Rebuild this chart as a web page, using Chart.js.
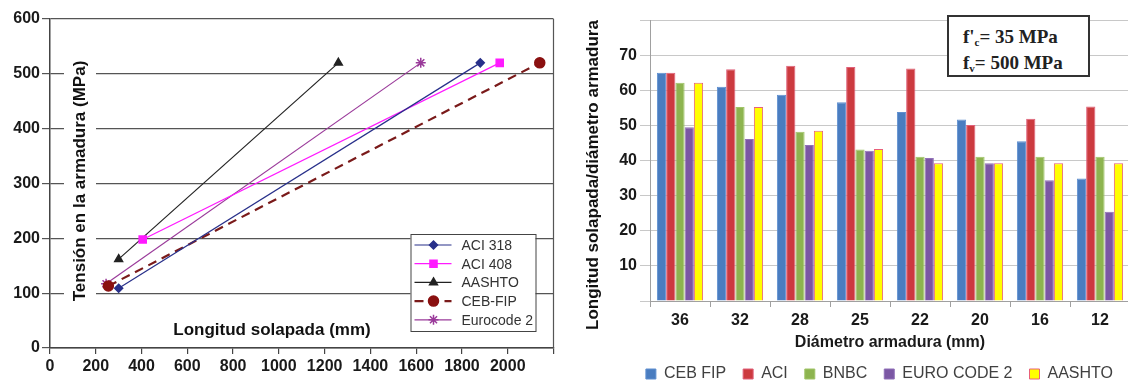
<!DOCTYPE html>
<html>
<head>
<meta charset="utf-8">
<script src="https://cdn.jsdelivr.net/npm/chart.js@4/dist/chart.umd.min.js"></script>
<style>
  html, body { margin: 0; padding: 0; background: #fff; }
  body { width: 1128px; height: 382px; overflow: hidden; position: relative; font-family: "Liberation Sans", Arial, sans-serif; }
  #left { position: absolute; left: 0; top: 0; width: 560px; height: 382px; }
  #right { position: absolute; left: 560px; top: 0; width: 580px; height: 382px; }
  #note {
    position: absolute; left: 947px; top: 15px; width: 139px; height: 58px;
    border: 2px solid #333; background: #fff;
    font: bold 19px "Liberation Serif", "Times New Roman", serif; color: #222;
    line-height: 26px; box-sizing: content-box;
  }
  #note div { padding-left: 14px; white-space: nowrap; height: 26px; }
  #note div:first-child { margin-top: 7px; }
  #note sub { font-size: 11px; vertical-align: -3px; line-height: 0; }
</style>
</head>
<body>
<canvas id="left" width="560" height="382"></canvas>
<canvas id="right" width="580" height="382"></canvas>
<div id="note"><div>f'<sub>c</sub>= 35 MPa</div><div>f<sub>v</sub>= 500 MPa</div></div>
<script>
// left chart: stress vs lap length
const aci318X = [300, 1880]
const aci318Y = [109, 520]
const aci408X = [405, 1965]
const aci408Y = [198, 520]
const aashtoX = [300, 1260]
const aashtoY = [162, 520]
const cebFipX = [255, 2140]
const cebFipY = [113, 520]
const eurocodeX = [245, 1620]
const eurocodeY = [117, 520]

// right chart: lap length / bar diameter
const diameters = ['36', '32', '28', '25', '22', '20', '16', '12']
const cebFip = [65, 61, 58.7, 56.6, 53.8, 51.7, 45.5, 34.9]
const aci = [65, 66, 67, 66.6, 66.2, 50.1, 51.9, 55.4]
const bnbc = [62.1, 55.2, 48.2, 43.1, 41.1, 41.1, 41.1, 41.1]
const euroCode2 = [49.5, 46.1, 44.4, 42.8, 40.7, 39.2, 34.4, 25.4]
const aashtoRatio = [62.1, 55.2, 48.5, 43.3, 39.2, 39.2, 39.2, 39.2]

const FONT = '"Liberation Sans", Arial, sans-serif'

let pts = (xs, ys) => xs.map((x, i) => ({ x: x, y: ys[i] }))

// text placed freely on the canvas (titles sitting inside the plot)
const freeTitles = {
  id: 'freeTitles',
  beforeDatasetsDraw (chart, args, opts) {
    let ctx = chart.ctx
    ;(opts.items || []).forEach(t => {
      ctx.save()
      ctx.font = t.font
      ctx.translate(t.x, t.y)
      if (t.rotate) ctx.rotate(t.rotate)
      let w = ctx.measureText(t.text).width
      if (t.bg) {
        ctx.fillStyle = t.bg
        ctx.fillRect(-w / 2 - 4, -t.bgH / 2, w + 8, t.bgH)
      }
      ctx.fillStyle = t.color || '#111'
      ctx.textAlign = 'center'
      ctx.textBaseline = 'middle'
      ctx.fillText(t.text, 0, 0)
      ctx.restore()
    })
  }
}

// boxed legend drawn inside the plot area, bottom right
const boxLegend = {
  id: 'boxLegend',
  afterDatasetsDraw (chart) {
    let ctx = chart.ctx
    let area = chart.chartArea
    let left = area.right - 143
    let top = area.top + 215
    ctx.save()
    ctx.fillStyle = '#fff'
    ctx.fillRect(left, top, 125, 97)
    ctx.strokeStyle = '#444'
    ctx.lineWidth = 1
    ctx.strokeRect(left + 0.5, top + 0.5, 125, 97)
    chart.data.datasets.forEach((ds, i) => {
      let y = top + 11 + i * 18.7
      ctx.strokeStyle = ds.borderColor
      ctx.lineWidth = ds.borderWidth
      ctx.setLineDash(ds.borderDash || [])
      ctx.beginPath()
      ctx.moveTo(left + 4, y)
      ctx.lineTo(left + 41, y)
      ctx.stroke()
      ctx.setLineDash([])
      ctx.fillStyle = ds.pointBackgroundColor
      ctx.strokeStyle = ds.pointBorderColor
      ctx.lineWidth = 1.5
      Chart.helpers.drawPoint(ctx, { pointStyle: ds.pointStyle, radius: ds.pointRadius, rotation: 0, borderWidth: 1.5 }, left + 23, y)
      ctx.fillStyle = '#333'
      ctx.font = '14px ' + FONT
      ctx.textBaseline = 'middle'
      ctx.fillText(ds.label, left + 51, y + 1)
    })
    ctx.restore()
  }
}

// right border of the left plot
const rightEdge = {
  id: 'rightEdge',
  beforeDatasetsDraw (chart) {
    let ctx = chart.ctx
    let a = chart.chartArea
    ctx.save()
    ctx.strokeStyle = '#555'
    ctx.lineWidth = 1.2
    ctx.beginPath()
    ctx.moveTo(a.right, a.top)
    ctx.lineTo(a.right, a.bottom)
    ctx.stroke()
    ctx.restore()
  }
}

let lineSet = (label, data, color, style, radius, extra) => Object.assign({
  label: label,
  data: data,
  borderColor: color,
  borderWidth: 1.2,
  pointStyle: style,
  pointRadius: radius,
  pointBackgroundColor: color,
  pointBorderColor: color,
  pointBorderWidth: 1.5,
  showLine: true,
  fill: false
}, extra || {})

new Chart(document.getElementById('left'), {
  type: 'scatter',
  data: {
    datasets: [
      lineSet('ACI 318', pts(aci318X, aci318Y), '#28308a', 'rectRot', 4),
      lineSet('ACI 408', pts(aci408X, aci408Y), '#ff1aff', 'rect', 5),
      lineSet('AASHTO', pts(aashtoX, aashtoY), '#222222', 'triangle', 4.5),
      lineSet('CEB-FIP', pts(cebFipX, cebFipY), '#7a1a1a', 'circle', 5, { borderWidth: 2.2, borderDash: [9, 6], pointBackgroundColor: '#8a1010', pointBorderColor: '#8a1010' }),
      lineSet('Eurocode 2', pts(eurocodeX, eurocodeY), '#9a3a9a', 'star', 5)
    ]
  },
  options: {
    responsive: false,
    animation: false,
    layout: { padding: { top: 19, right: 4, left: 0, bottom: 0 } },
    plugins: {
      legend: { display: false },
      tooltip: { enabled: false },
      freeTitles: {
        items: [
          { text: 'Tensión en la armadura (MPa)', x: 80, y: 181, rotate: -Math.PI / 2, font: 'bold 17px ' + FONT, bg: '#fff', bgH: 32 },
          { text: 'Longitud solapada (mm)', x: 272, y: 330, font: 'bold 17px ' + FONT }
        ]
      }
    },
    scales: {
      x: {
        type: 'linear',
        min: 0,
        max: 2200,
        afterFit (scale) { scale.height = 34 },
        ticks: {
          stepSize: 200,
          padding: 3,
          maxRotation: 0,
          color: '#1a1a1a',
          font: { family: FONT, size: 16, weight: 'bold' },
          callback: v => v === 2200 ? '' : v
        },
        grid: { drawOnChartArea: false, drawTicks: true, tickLength: 6, color: '#444', lineWidth: 1.2 },
        border: { color: '#444', width: 1.5 }
      },
      y: {
        min: 0,
        max: 600,
        afterFit (scale) { scale.width = 50 },
        ticks: {
          stepSize: 100,
          padding: 2,
          color: '#1a1a1a',
          font: { family: FONT, size: 16, weight: 'bold' }
        },
        grid: { color: '#555', lineWidth: 1.2, tickLength: 8 },
        border: { color: '#444', width: 1.5 }
      }
    }
  },
  plugins: [freeTitles, rightEdge, boxLegend]
})

let barSet = (label, data, color, edge) => ({
  label: label,
  data: data,
  backgroundColor: color,
  borderColor: edge,
  borderWidth: 1,
  categoryPercentage: 0.77,
  barPercentage: 1.0
})

new Chart(document.getElementById('right'), {
  type: 'bar',
  data: {
    labels: diameters,
    datasets: [
      barSet('CEB FIP', cebFip, '#4a7dc0', '#5f8fd0'),
      barSet('ACI', aci, '#cc3a3f', '#e0607a'),
      barSet('BNBC', bnbc, '#8db44f', '#a0c468'),
      barSet('EURO CODE 2', euroCode2, '#7b57a4', '#9070b8'),
      barSet('AASHTO', aashtoRatio, '#ffff00', '#e8607a')
    ]
  },
  options: {
    responsive: false,
    animation: false,
    layout: { padding: { top: 20, right: 10, left: 0, bottom: -10 } },
    plugins: {
      tooltip: { enabled: false },
      legend: {
        position: 'bottom',
        align: 'end',
        labels: {
          boxWidth: 10,
          boxHeight: 10,
          padding: 17,
          color: '#404040',
          font: { family: FONT, size: 16 }
        }
      },
      freeTitles: {
        items: [
          { text: 'Longitud solapada/diámetro armadura', x: 33, y: 175, rotate: -Math.PI / 2, font: 'bold 17px ' + FONT }
        ]
      }
    },
    scales: {
      x: {
        offset: true,
        afterFit (scale) { scale.height = 48 },
        ticks: {
          padding: 4,
          color: '#1a1a1a',
          font: { family: FONT, size: 16, weight: 'bold' }
        },
        grid: { offset: true, drawOnChartArea: false, tickLength: 6, color: '#a0a0a0' },
        border: { color: '#a0a0a0' },
        title: {
          display: true,
          text: 'Diámetro armadura (mm)',
          color: '#1a1a1a',
          padding: { top: 0, bottom: -3 },
          font: { family: FONT, size: 16, weight: 'bold' }
        }
      },
      y: {
        min: 0,
        max: 80,
        afterFit (scale) { scale.width = 90 },
        ticks: {
          stepSize: 10,
          padding: 3,
          color: '#1a1a1a',
          font: { family: FONT, size: 16, weight: 'bold' },
          callback: v => (v === 0 || v === 80) ? '' : v
        },
        grid: { color: '#c8c8c8', tickLength: 10 },
        border: { color: '#a0a0a0' }
      }
    }
  },
  plugins: [freeTitles]
})
</script>
</body>
</html>
